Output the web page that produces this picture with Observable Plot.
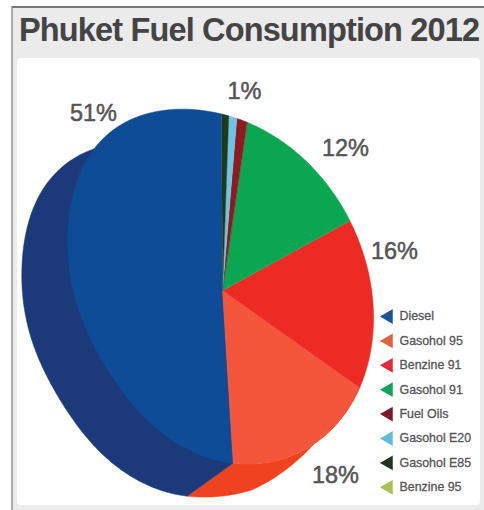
<!DOCTYPE html>
<html><head><meta charset="utf-8">
<script src="https://cdn.jsdelivr.net/npm/d3@7"></script>
<script src="https://cdn.jsdelivr.net/npm/@observablehq/plot@0.6"></script>
<style>
html,body{margin:0;padding:0;background:#fff;width:484px;height:510px;overflow:hidden}
#frame{position:absolute;left:11px;top:6px;width:473px;height:504px;background:#ebebeb;border-top:2px solid #777;border-left:2px solid #aaa;box-sizing:border-box}
#title{position:absolute;left:6px;top:4px;white-space:nowrap;font:bold 32.5px "Liberation Sans",sans-serif;letter-spacing:-.85px;color:#444}
#chart{position:absolute;left:17px;top:58px;width:463px;height:447px;background:#fff;border-radius:4px}
#chart svg{display:block;background:transparent;overflow:visible}
</style></head><body>
<div id="frame"><div id="title">Phuket Fuel Consumption 2012</div></div>
<div id="chart"></div>
<script>
// Fuels in legend order (also the order round the pie, anticlockwise from the top)
const fuels = ["Diesel","Gasohol 95","Benzine 91","Gasohol 91","Fuel Oils","Gasohol E20","Gasohol E85","Benzine 95"];
// Share of the turn each slice occupies as drawn in the picture (its tilted pie distorts the sweeps)
const drawnShares = [50.9,14.2,17.8,14.7,1.0,0.75,0.65,0];
const fuelColors = ["#0f4c97","#f4563c","#ee2a24","#0aa651","#8f1a1f","#6cc5e8","#1f3a1a","#a9c24a"];
const legendColors = ["#1b5596","#e0623f","#e2293a","#12a35a","#7c1a2a","#62bdd8","#20351c","#a8c050"];
const sideColors = {"Diesel":"#1c3a7a","Gasohol 95":"#f0421f"};
// Printed labels
const labelTexts = ["51%","18%","16%","12%","1%"];

// Layout (page pixels)
const labelAt = [[93,113],[335,475],[394,251],[345,148],[244,91]];
const legendY0 = 316, legendStep = 24.4, legendMarkX = 388, legendTextX = 399;
const C = [222,290], depth = [-46,33], startDeg = -0.3;
const outline = {E:[220,288],a:182,b:146,tilt:25};
// The outline is not a true ellipse: it swells at the upper left and flattens at the lower left
const outlineBumps = [{at:322,width:25,size:11},{at:235,width:38,size:-8}];

const dot = (p,q)=>p[0]*q[0]+p[1]*q[1];
function radius(deg){
  const {E,a,b,tilt} = outline;
  const t = tilt*Math.PI/180, u=[-Math.sin(t),-Math.cos(t)], v=[Math.cos(t),-Math.sin(t)];
  const f = deg*Math.PI/180, d=[Math.sin(f),-Math.cos(f)], q=[C[0]-E[0],C[1]-E[1]];
  const A = dot(d,u)**2/a**2+dot(d,v)**2/b**2;
  const B = 2*(dot(q,u)*dot(d,u)/a**2+dot(q,v)*dot(d,v)/b**2);
  const K = dot(q,u)**2/a**2+dot(q,v)**2/b**2-1;
  const base = (-B+Math.sqrt(B*B-4*A*K))/(2*A);
  return base+d3.sum(outlineBumps,({at,width,size})=>{
    const delta = ((deg-at)%360+540)%360-180;
    return size*Math.exp(-((delta/width)**2));
  });
}
function rim(deg, shift=[0,0]){
  const f = deg*Math.PI/180, r = radius(deg);
  return [C[0]+r*Math.sin(f)+shift[0], C[1]-r*Math.cos(f)+shift[1]];
}
function arc(from,to,shiftAt=()=>[0,0]){
  const n = Math.max(2,Math.ceil(Math.abs(to-from))), out=[];
  for(let i=0;i<=n;i++) out.push(rim(from+(to-from)*i/n,shiftAt(i/n)));
  return out;
}
const toRow = name => ([x,y]) => ({name,x,y});
let acc = startDeg; const spans = {};
fuels.forEach((n,i)=>{ const to = acc-drawnShares[i]*3.6; spans[n]=[acc,to]; acc=to; });

const topRows = fuels.filter((n,i)=>drawnShares[i]>0).flatMap(n=>
  [C,...arc(spans[n][0],spans[n][1])].map(toRow(n)));
const [d0,d1] = spans["Diesel"], [g0,g1] = spans["Gasohol 95"];
const dieselSide = [...arc(d0,d1,()=>depth),rim(d1),C].map(toRow("Diesel"));
// The orange side narrows to nothing where it meets the red slice
const taper = t => { const k = Math.sqrt(t); return [depth[0]*k,depth[1]*Math.min(1,1.25*k)]; };
const g95Side = [...arc(g0,g1),...arc(g1,g0,taper)].map(toRow("Gasohol 95"));

const legend = fuels.map((name,i)=>({name,color:legendColors[i],x:legendMarkX,tx:legendTextX,y:legendY0+i*legendStep}));
const labels = labelTexts.map((t,i)=>({t,x:labelAt[i][0],y:labelAt[i][1]}));

const plot = Plot.plot({
  width:463,height:447,margin:0,
  x:{domain:[17,480],range:[0,463],axis:null},
  y:{domain:[58,505],range:[0,447],axis:null},
  color:{domain:fuels,range:fuelColors},
  style:{background:"transparent"},
  marks:[
    Plot.line(g95Side,{x:"x",y:"y",fill:sideColors["Gasohol 95"],stroke:sideColors["Gasohol 95"],strokeWidth:.5}),
    Plot.line(dieselSide,{x:"x",y:"y",fill:sideColors["Diesel"],stroke:sideColors["Diesel"],strokeWidth:.5}),
    Plot.line(topRows,{x:"x",y:"y",z:"name",fill:"name",stroke:"name",strokeWidth:.5}),
    Plot.dot(legend,{x:"x",y:"y",symbol:"triangle",rotate:-90,r:5.5,fill:"color"}),
    Plot.text(legend,{x:"tx",y:"y",text:"name",textAnchor:"start",fontSize:12.4,fontFamily:"Liberation Sans",fill:"#555",stroke:"#555",strokeWidth:.3}),
    Plot.text(labels,{x:"x",y:"y",text:"t",fontSize:23.5,fontFamily:"Liberation Sans",fill:"#555",stroke:"#555",strokeWidth:.5})
  ]
});
document.getElementById("chart").append(plot);
</script>
</body></html>
